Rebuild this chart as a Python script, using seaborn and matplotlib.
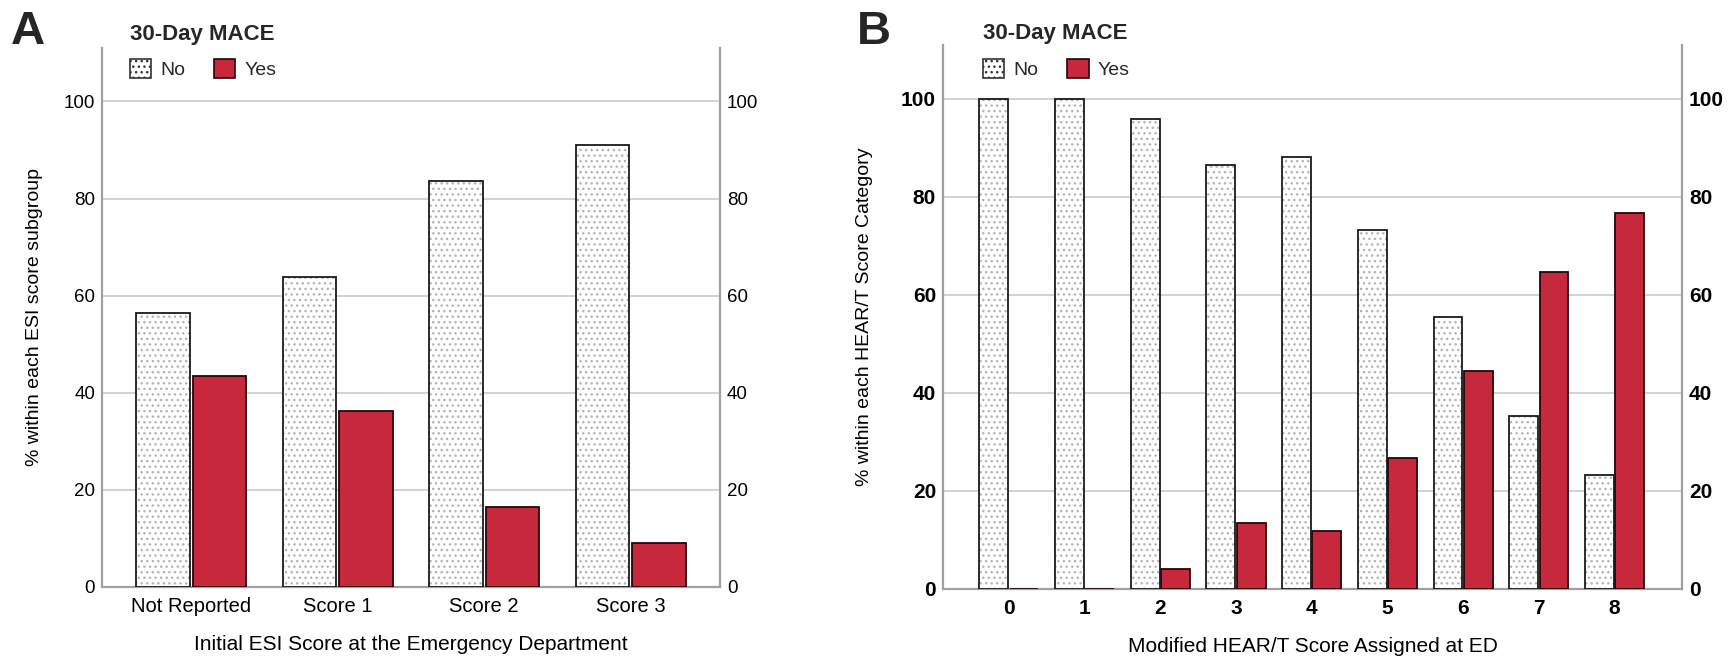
import pandas as pd
import matplotlib
matplotlib.use("Agg")
import matplotlib.pyplot as plt
import seaborn as sns
from matplotlib.patches import Patch, Rectangle

# Panel A: 30-day MACE by initial ESI score (% within subgroup)
esi_categories = ["Not Reported", "Score 1", "Score 2", "Score 3"]
esi_no = [56.5, 63.8, 83.6, 91.0]
esi_yes = [43.5, 36.2, 16.4, 9.0]

# Panel B: 30-day MACE by modified HEAR/T score (% within category)
heart_categories = ["0", "1", "2", "3", "4", "5", "6", "7", "8"]
heart_no = [100.0, 100.0, 95.9, 86.6, 88.1, 73.3, 55.6, 35.3, 23.3]
heart_yes = [0.0, 0.0, 4.1, 13.4, 11.9, 26.7, 44.4, 64.7, 76.7]

mace_levels = ["No", "Yes"]
yticks = [0, 20, 40, 60, 80, 100]

RED = "#c8283b"


def long_table(cats, no, yes):
    return pd.DataFrame({
        "category": cats * 2,
        "mace": ["No"] * len(cats) + ["Yes"] * len(cats),
        "pct": list(no) + list(yes),
    })


sns.set_theme(style="white")
plt.rcParams["font.family"] = ["Liberation Sans", "DejaVu Sans"]
plt.rcParams["hatch.linewidth"] = 1.0

fig = plt.figure(figsize=(17.34, 6.69), dpi=100)
ax_a = fig.add_axes([0.0588, 0.1226, 0.3564, 0.8057])
ax_b = fig.add_axes([0.5438, 0.1196, 0.4262, 0.8131])


def draw_panel(ax, cats, no, yes, width, xlim, ylabel, xlabel, bold_ticks,
               legend_x, legend_y):
    df = long_table(cats, no, yes)
    sns.barplot(data=df, x="category", y="pct", hue="mace", order=cats,
                hue_order=mace_levels, palette={"No": "white", "Yes": RED},
                saturation=1, width=width, gap=0.05, edgecolor="#1a1a1a",
                linewidth=1.3, legend=False, ax=ax, zorder=3)

    # dotted fill for the "No" bars, outline drawn on top
    for bar in ax.containers[0]:
        bar.set_hatch("...")
        bar.set_edgecolor("#b4b4b4")
        bar.set_linewidth(0)
        ax.add_patch(Rectangle(bar.get_xy(), bar.get_width(), bar.get_height(),
                               fill=False, edgecolor="#1a1a1a", lw=1.3, zorder=4))
    for bar in ax.containers[1]:
        bar.set_edgecolor("#240609")

    ax.set_xlim(*xlim)
    ax.set_ylim(0, 111)
    ax.set_yticks(yticks)
    ax.yaxis.grid(True, color="#d2d2d2", lw=1.4)
    ax.set_axisbelow(True)
    for side in ["left", "right", "bottom"]:
        ax.spines[side].set_color("#a0a0a0")
        ax.spines[side].set_linewidth(1.6)
    ax.spines["top"].set_visible(False)

    weight = "bold" if bold_ticks else "normal"
    ysize = 15 if bold_ticks else 13.5
    ax.tick_params(axis="y", length=0, pad=5, labelsize=ysize,
                   labelleft=True, labelright=True, colors="black")
    ax.tick_params(axis="x", length=0, pad=7, labelsize=15 if bold_ticks else 14.5,
                   colors="black")
    for lab in ax.get_yticklabels() + ax.get_xticklabels():
        lab.set_fontweight(weight)
    for t in ax.yaxis.get_major_ticks():
        t.label2.set_fontweight(weight)
        t.label2.set_fontsize(ysize)

    ax.set_xlabel(xlabel, fontsize=15, labelpad=14, color="black")
    ax.set_ylabel(ylabel, fontsize=14, color="black")
    ax.yaxis.set_label_coords(-0.095, 0.5)

    handles = [
        Patch(facecolor="white", edgecolor="#333333", hatch="...", lw=1.2, label="No"),
        Patch(facecolor=RED, edgecolor="#240609", lw=1.2, label="Yes"),
    ]
    leg = ax.legend(handles=handles, title="30-Day MACE", ncol=2, frameon=False,
                    loc="upper left", bbox_to_anchor=(legend_x, legend_y),
                    borderpad=0, borderaxespad=0, fontsize=14,
                    title_fontproperties={"weight": "bold", "size": 16},
                    alignment="left", handlelength=1.1, handleheight=1.1,
                    handletextpad=0.45, columnspacing=1.5, labelspacing=0.75)
    leg.set_zorder(10)


draw_panel(ax_a, esi_categories, esi_no, esi_yes, 0.77, (-0.61, 3.61),
           "% within each ESI score subgroup",
           "Initial ESI Score at the Emergency Department", False, 0.045, 1.045)
draw_panel(ax_b, heart_categories, heart_no, heart_yes, 0.8, (-0.87, 8.89),
           "% within each HEAR/T Score Category",
           "Modified HEAR/T Score Assigned at ED", True, 0.054, 1.04)

fig.text(0.006, 0.985, "A", fontsize=34, fontweight="bold", va="top", ha="left")
fig.text(0.494, 0.985, "B", fontsize=34, fontweight="bold", va="top", ha="left")

fig.savefig("out.png", dpi=100)
